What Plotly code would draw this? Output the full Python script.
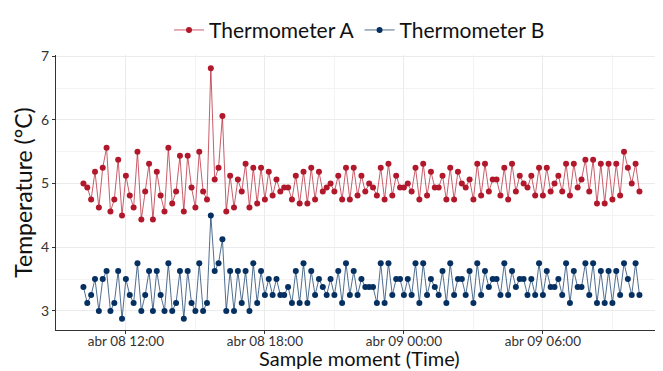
import pandas as pd
import plotly.graph_objects as go

times = pd.date_range("2024-04-08 10:10", periods=145, freq="10min")

therm_a = [
    5.0, 4.9375, 4.75, 5.1875, 4.625, 5.25, 5.5625, 4.5625, 4.75, 5.375,
    4.5, 5.125, 4.8125, 4.625, 5.5, 4.4375, 4.875, 5.3125, 4.4375, 5.1875,
    4.8125, 4.5625, 5.5625, 4.6875, 4.875, 5.4375, 4.5625, 5.4375, 4.9375, 4.625,
    5.5, 4.875, 4.75, 6.8125, 5.0625, 5.25, 6.0625, 4.5625, 5.125, 4.625,
    5.0625, 4.875, 5.3125, 4.625, 5.25, 4.6875, 5.25, 4.75, 5.1875, 4.8125,
    5.0625, 4.875, 4.9375, 4.9375, 4.75, 5.125, 4.6875, 5.1875, 4.6875, 5.25,
    4.75, 5.1875, 4.875, 4.9375, 5.0, 4.875, 5.125, 4.75, 5.25, 4.75,
    5.25, 4.8125, 5.125, 4.875, 5.0, 4.9375, 4.8125, 5.25, 4.75, 5.3125,
    4.8125, 5.125, 4.9375, 4.9375, 5.0, 4.875, 5.25, 4.75, 5.3125, 4.8125,
    5.1875, 4.9375, 4.9375, 5.125, 4.75, 5.25, 4.75, 5.1875, 5.0, 4.9375,
    5.0625, 4.75, 5.3125, 4.8125, 5.3125, 4.875, 5.0625, 5.0625, 4.8125, 5.25,
    4.75, 5.3125, 4.875, 5.125, 5.0, 4.9375, 5.125, 4.8125, 5.25, 4.8125,
    5.25, 4.875, 5.0, 5.125, 4.875, 5.3125, 4.8125, 5.3125, 4.9375, 5.0625,
    5.375, 4.875, 5.375, 4.6875, 5.3125, 4.6875, 5.3125, 4.75, 5.3125, 4.8125,
    5.5, 5.25, 5.0, 5.3125, 4.875,
]

therm_b = [
    3.375, 3.125, 3.25, 3.5, 3.0, 3.5, 3.625, 3.0, 3.125, 3.625,
    2.875, 3.5, 3.25, 3.125, 3.75, 3.0, 3.25, 3.625, 3.0, 3.625,
    3.25, 3.0, 3.75, 3.0, 3.125, 3.625, 2.875, 3.625, 3.125, 3.0,
    3.75, 3.0, 3.125, 4.5, 3.625, 3.75, 4.125, 3.0, 3.625, 3.0,
    3.625, 3.125, 3.625, 3.0, 3.75, 3.125, 3.625, 3.25, 3.5, 3.25,
    3.5, 3.25, 3.25, 3.375, 3.125, 3.625, 3.125, 3.75, 3.125, 3.625,
    3.25, 3.5, 3.375, 3.25, 3.5, 3.25, 3.625, 3.125, 3.75, 3.25,
    3.625, 3.25, 3.5, 3.375, 3.375, 3.375, 3.125, 3.75, 3.125, 3.75,
    3.25, 3.5, 3.5, 3.25, 3.5, 3.25, 3.75, 3.125, 3.75, 3.25,
    3.5, 3.375, 3.25, 3.625, 3.125, 3.75, 3.25, 3.5, 3.5, 3.25,
    3.625, 3.125, 3.75, 3.25, 3.625, 3.375, 3.5, 3.5, 3.25, 3.75,
    3.25, 3.625, 3.375, 3.5, 3.5, 3.25, 3.5, 3.25, 3.75, 3.25,
    3.625, 3.375, 3.375, 3.5, 3.25, 3.75, 3.125, 3.625, 3.375, 3.375,
    3.75, 3.25, 3.75, 3.125, 3.625, 3.125, 3.625, 3.125, 3.625, 3.25,
    3.75, 3.5, 3.25, 3.75, 3.25,
]

tick_vals = ["2024-04-08 12:00", "2024-04-08 18:00", "2024-04-09 00:00", "2024-04-09 06:00"]
tick_text = ["abr 08 12:00", "abr 08 18:00", "abr 09 00:00", "abr 09 06:00"]

red = "#B2182B"
blue = "#053061"

fig = go.Figure()
fig.add_trace(go.Scatter(
    x=times, y=therm_a, mode="lines+markers", name="Thermometer A",
    line=dict(color="rgba(178,24,43,0.7)", width=1),
    marker=dict(color=red, size=6),
))
fig.add_trace(go.Scatter(
    x=times, y=therm_b, mode="lines+markers", name="Thermometer B",
    line=dict(color="rgba(5,48,97,0.7)", width=1),
    marker=dict(color=blue, size=6),
))

fig.update_layout(
    width=655, height=363,
    margin=dict(l=48, r=0, t=47, b=41, autoexpand=False),
    paper_bgcolor="white", plot_bgcolor="white",
    font=dict(family="Lato, Open Sans, sans-serif", color="#333333"),
    legend=dict(orientation="h", x=0.5, xanchor="center", y=0.995, yanchor="top",
                yref="container", font=dict(size=21, color="#111111"),
                itemwidth=30, tracegroupgap=0),
    showlegend=True,
    annotations=[dict(
        text="Sample moment (Time)", xref="paper", yref="paper",
        x=0.5, y=-0.102, xanchor="center", yanchor="middle", showarrow=False,
        font=dict(size=20, color="#111111"),
    )],
)

fig.update_xaxes(
    range=["2024-04-08 08:59", "2024-04-09 11:11"],
    tickvals=tick_vals, ticktext=tick_text,
    tickfont=dict(size=13.5, color="#333333"),
    ticklabelstandoff=-4,
    showgrid=True, gridcolor="#EBEBEB", gridwidth=1,
    minor=dict(dtick=3 * 3600 * 1000, tick0="2024-04-08 00:00", showgrid=True, gridcolor="#F3F3F3"),
    showline=True, linecolor="#333333", linewidth=1,
    ticks="outside", ticklen=3, tickcolor="#333333",
    zeroline=False, automargin=False,
)
fig.update_yaxes(
    range=[2.70, 7.02],
    tickvals=[3, 4, 5, 6, 7],
    tickfont=dict(size=14, color="#333333"),
    showgrid=True, gridcolor="#EBEBEB", gridwidth=1,
    minor=dict(dtick=0.5, showgrid=True, gridcolor="#F3F3F3"),
    showline=True, linecolor="#333333", linewidth=1,
    ticks="outside", ticklen=3, tickcolor="#333333",
    zeroline=False, automargin=False,
    title=dict(text="Temperature (°C)", font=dict(size=23, color="#111111"), standoff=2),
)

fig.write_html("out.html")
